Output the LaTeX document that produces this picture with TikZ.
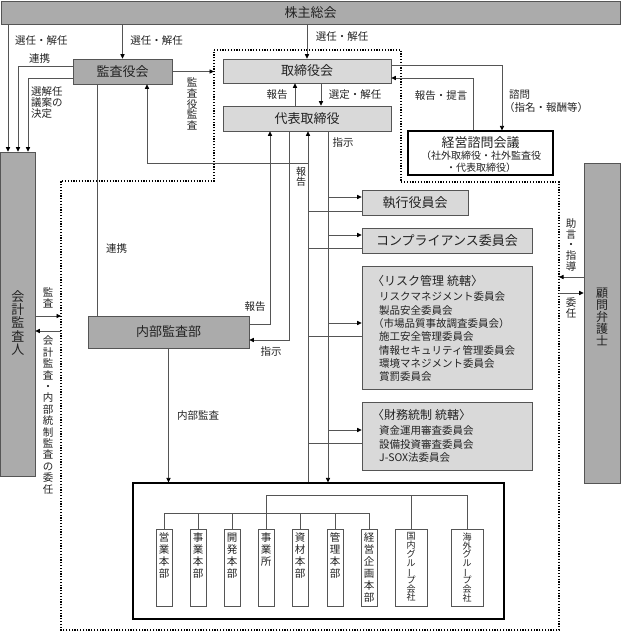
\documentclass[tikz,border=0pt]{standalone}
\usepackage{fontspec}
\setmainfont{Noto Sans CJK JP}
\usepackage{graphicx}
\usetikzlibrary{arrows.meta,calc}
\definecolor{dk}{HTML}{ABABAB}
\definecolor{lt}{HTML}{D9D9D9}
\definecolor{ln}{HTML}{555555}
\definecolor{tx}{HTML}{222222}
\newcommand{\fsz}[2]{\fontsize{#1}{#2}\selectfont}
\newcommand{\vfont}[2]{\fontsize{#1}{#2}\selectfont\lineskiplimit=-20pt\lineskip=0pt}
\newcommand{\vbar}{\rotatebox[origin=c]{90}{ー}}
\begin{document}
\begin{tikzpicture}[x=1pt,y=-1pt,
  conn/.style={draw=ln,line width=0.8pt},
  arr/.style={conn,-{Triangle[length=4.5pt,width=4.2pt,color=black]}},
  dbox/.style={draw=ln,line width=0.8pt,fill=dk,inner sep=0pt,text=tx,font=\fsz{13}{15},text height=11.4pt,text depth=1.6pt},
  lbox/.style={dbox,fill=lt},
  lbl/.style={inner sep=0pt,text=tx,font=\fsz{10.5}{12},text height=9.2pt,text depth=1.3pt},
  vlbl/.style={inner sep=0pt,text=tx,align=center,font=\vfont{10.5}{10.7}},
  sbox/.style={draw=ln,line width=0.8pt,fill=white,inner sep=0pt,minimum width=16pt,minimum height=77pt},
  wbox/.style={sbox,minimum width=32pt},
]
\useasboundingbox (0,0) rectangle (621,633);

% dotted outline
\draw[line width=1.2pt,dash pattern=on 1.2pt off 1.6pt] (214,50) -- (401,50) -- (401,182) -- (559,182) -- (559,630) -- (61,630) -- (61,181) -- (214,181) -- cycle;

% main boxes
\node[dbox,minimum width=619pt,minimum height=23pt] (kabu) at (310.5,12.5) {株主総会};
\node[dbox,minimum width=99pt,minimum height=25pt] (kansa) at (122.5,71.5) {監査役会};
\node[lbox,minimum width=168pt,minimum height=24pt] (tori) at (307,71) {取締役会};
\node[lbox,minimum width=168pt,minimum height=25pt] (daihyo) at (307,118.5) {代表取締役};
\node[draw=black,line width=1.3pt,fill=white,minimum width=145pt,minimum height=44pt,inner sep=0pt] (keiei) at (480.5,153) {};
\node[inner sep=0pt,text=tx,font=\fsz{13}{15},text height=11.4pt,text depth=1.6pt] (keiei1) at (480.5,143) {経営諮問会議};
\node[lbl,font=\fsz{10}{12}] (keiei2) at (481,155.5) {（社外取締役・社外監査役};
\node[lbl,font=\fsz{10}{12}] (keiei3) at (481,167.5) {・代表取締役）};

\node[dbox,minimum width=34.5pt,minimum height=324pt] (kaikei) at (17.75,314) {};
\node[vlbl,font=\vfont{13}{13.3}] (kaikeit) at (18,323) {会\\計\\監\\査\\人};
\node[dbox,minimum width=36pt,minimum height=320pt] (komon) at (602,323) {};
\node[vlbl,font=\vfont{12}{12}] (komont) at (602,317) {顧\\問\\弁\\護\\士};

\node[dbox,minimum width=161pt,minimum height=32pt] (naibu) at (168.5,332) {内部監査部};

\node[lbox,minimum width=106pt,minimum height=25pt] (shikko) at (415,202.5) {執行役員会};
\node[lbox,minimum width=170pt,minimum height=25pt] (comp) at (447,240.5) {コンプライアンス委員会};
\node[lbox,minimum width=170pt,minimum height=123pt] (risk) at (447,327.5) {};
\node[lbox,minimum width=170pt,minimum height=68pt] (zaimu) at (447,436) {};

\node[lbl,anchor=west,font=\fsz{12}{14},text height=10.5pt,text depth=1.5pt] (rt) at (372,281) {〈リスク管理\hspace{3pt}統轄〉};
\foreach \t/\xx [count=\i] in {リスクマネジメント委員会/379,製品安全委員会/379,（市場品質事故調査委員会）/373,施工安全管理委員会/379,情報セキュリティ管理委員会/379,環境マネジメント委員会/379,賞罰委員会/379}{
  \pgfmathsetmacro{\yy}{283.7+13.33*\i}
  \node[lbl,anchor=west] (ri\i) at (\xx,\yy) {\t};
}
\node[lbl,anchor=west,font=\fsz{12}{14},text height=10.5pt,text depth=1.5pt] (zt) at (372,415) {〈財務統制\hspace{3pt}統轄〉};
\foreach \t [count=\i] in {資金運用審査委員会,設備投資審査委員会,J-SOX法委員会}{
  \pgfmathsetmacro{\yy}{417.5+13.5*\i}
  \node[lbl,anchor=west] (zi\i) at (379,\yy) {\t};
}

% bottom box
\node[draw=black,line width=1.3pt,minimum width=371pt,minimum height=136pt,inner sep=0pt] (bot) at (318.5,551) {};
\foreach \n/\x in {1/164,2/198,3/232,4/266,5/300,6/335,7/369}{
  \node[sbox] (b\n) at (\x,567.5) {};
}
\node[wbox] (b8) at (411,567.5) {};
\node[wbox] (b9) at (467,567.5) {};
\foreach \n/\t in {1/{営\\業\\本\\部},2/{事\\業\\本\\部},3/{開\\発\\本\\部},4/{事\\業\\所},5/{資\\材\\本\\部},6/{管\\理\\本\\部},7/{経\\営\\企\\画\\本\\部}}{
  \node[vlbl,anchor=north,font=\vfont{10.5}{12}] (t\n) at ($(b\n.north)+(0,4)$) {\t};
}
\node[vlbl,anchor=north,font=\vfont{9}{8.7}] (t8) at ($(b8.north)+(0,4)$) {国\\内\\グ\\ル\\\vbar\\プ\\会\\社};
\node[vlbl,anchor=north,font=\vfont{9}{8.7}] (t9) at ($(b9.north)+(0,4)$) {海\\外\\グ\\ル\\\vbar\\プ\\会\\社};

% coordinates
\coordinate (c8) at (8,0);
\coordinate (r1) at (18,66);
\coordinate (r2) at (28,78);
\coordinate (dl) at (214,71.5);
\coordinate (c295) at (295,0);
\coordinate (c321) at (321,0);
\coordinate (c65) at (502,65);
\coordinate (c473) at (473,78);
\coordinate (c97) at (97,0);
\coordinate (c270) at (270,324);
\coordinate (c289) at (289,340);
\coordinate (c328) at (328,0);
\coordinate (c308) at (308,0);
\coordinate (j163) at (308,163);
\coordinate (c147) at (147,0);
\coordinate (k316) at (61,316);
\coordinate (k331) at (61,331);
\coordinate (m277) at (559,277);
\coordinate (m293) at (559,293);
\coordinate (lb) at (0,513);
\coordinate (ub) at (0,495);

% connectors
\draw[arr] (kabu.south -| c8) -- (kaikei.north -| c8);
\draw[arr] (kabu.south -| kansa.north) -- (kansa.north);
\draw[arr] (kabu.south -| tori.north) -- (tori.north);
\draw[arr] (kansa.west |- r1) -| (kaikei.north -| r1);
\draw[arr] (kansa.west |- r2) -| (kaikei.north -| r2);
\draw[arr] (kansa.east) -- (dl);
\draw[arr] (daihyo.north -| c295) -- (tori.south -| c295);
\draw[arr] (tori.south -| c321) -- (daihyo.north -| c321);
\draw[arr] (tori.east |- c65) -| (keiei.north -| c65);
\draw[arr] (keiei.north -| c473) |- (tori.east |- c473);
\draw[conn] (kansa.south -| c97) -- (naibu.north -| c97);
\draw[arr] (naibu.east |- c270) -| (daihyo.south -| c270);
\draw[arr] (daihyo.south -| c289) |- (naibu.east |- c289);
\draw[arr] (naibu.south) -- (naibu.south |- bot.north);
\draw[arr] (daihyo.south -| c328) -- (bot.north -| c328);
\draw[arr] (bot.north -| c308) -- (daihyo.south -| c308);
\draw[arr] (j163) -| (kansa.south -| c147);
\draw[arr] (kaikei.east |- k316) -- (k316);
\draw[arr] (k331) -- (kaikei.east |- k331);
\draw[arr] (komon.west |- m277) -- (m277);
\draw[arr] (m293) -- (komon.west |- m293);
\foreach \n/\ya/\yb in {shikko/197/211,comp/235/248,risk/323/336,zaimu/430/443}{
  \coordinate (a\n) at (328,\ya);
  \coordinate (p\n) at (308,\yb);
  \draw[arr] (a\n) -- (\n.west |- a\n);
  \draw[conn] (\n.west |- p\n) -- (p\n);
}
\draw[conn] (b1.north) |- (b7.north |- lb) -- (b7.north);
\foreach \i in {2,...,6}{\draw[conn] (b\i.north) -- (b\i.north |- lb);}
\draw[conn] (b4.north) |- (b9.north |- ub) -- (b9.north);
\draw[conn] (b8.north) -- (b8.north |- ub);

% labels
\node[lbl] (l1) at (41.5,41) {選任・解任};
\node[lbl] (l2) at (156.5,41) {選任・解任};
\node[lbl] (l3) at (342,37) {選任・解任};
\node[lbl] (l4) at (39.5,59) {連携};
\node[vlbl,align=left,anchor=north west,font=\vfont{10.5}{11}] (l5) at (31,86) {選解任\\議案の\\決定};
\node[vlbl] (l6) at (192,104) {監\\査\\役\\監\\査};
\node[lbl] (l7) at (277,95) {報告};
\node[lbl] (l8) at (355,95) {選定・解任};
\node[lbl] (l9) at (441,96) {報告・提言};
\node[lbl,anchor=west] (l10) at (509,95) {諮問};
\node[lbl,anchor=west] (l11) at (504,108) {（指名・報酬等）};
\node[lbl] (l12) at (343,143) {指示};
\node[vlbl,font=\vfont{10}{10}] (l13) at (301,177) {報\\告};
\node[lbl] (l14) at (116.5,249) {連携};
\node[lbl] (l15) at (255,307) {報告};
\node[lbl] (l16) at (271,352) {指示};
\node[lbl] (l17) at (198,416) {内部監査};
\node[vlbl] (l18) at (48,298) {監\\査};
\node[vlbl,font=\vfont{10.5}{11.4}] (l19) at (48,415) {会\\計\\監\\査\\・\\内\\部\\統\\制\\監\\査\\の\\委\\任};
\node[vlbl] (l20) at (571,245) {助\\言\\・\\指\\導};
\node[vlbl] (l21) at (571,308) {委\\任};
\end{tikzpicture}
\end{document}
